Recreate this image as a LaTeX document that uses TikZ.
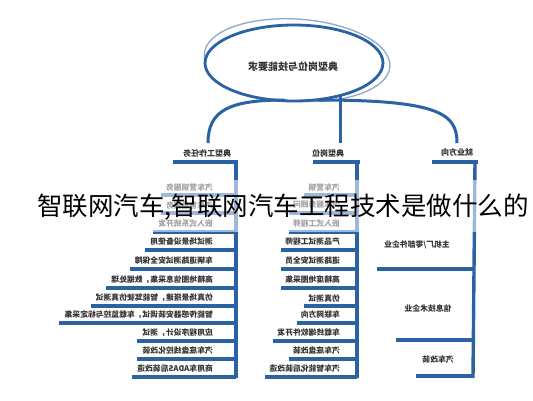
\documentclass[tikz,border=0pt]{standalone}
\usepackage{fontspec}
\usepackage{graphicx}
\setmainfont{Noto Sans CJK SC}
\usetikzlibrary{shapes.geometric}
\definecolor{bl}{HTML}{2B62A3}
\definecolor{tx}{HTML}{333333}
\newcommand\mir[1]{\reflectbox{#1}}
\begin{document}
\begin{tikzpicture}[x=1pt,y=-1pt,
  item/.style={font=\fontsize{7.8}{8}\selectfont\bfseries, text=tx, inner sep=0pt, anchor=east},
  head/.style={font=\fontsize{8}{9}\selectfont\bfseries, text=tx, inner sep=0pt},
  bar/.style={draw=bl, line width=3.4pt},
  branch/.style={draw=bl, line width=3pt},
]
\useasboundingbox (0,0) rectangle (533,400);
\fill[white] (0,0) rectangle (533,400);

% central ellipse
\draw[bl!55, line width=1.3pt, rotate around={-4:(295,62)}] (297,60) ellipse [x radius=93, y radius=41];
\draw[bl, line width=2.8pt, fill=white] (294,63) ellipse [x radius=89, y radius=38];
\node[font=\fontsize{10}{11}\selectfont\bfseries, text=tx] (E) at (293,67) {\mir{典型岗位与技能要求}};

% branch stubs
\coordinate (bL) at (208,143);
\coordinate (bM) at (340,143);
\coordinate (bR) at (457,143);
\coordinate (eL) at (285,100);
\coordinate (eM) at (340,95);
\coordinate (eR) at (318,100);
\draw[branch] (eL) .. controls (230,100) and (208,110) .. (bL);
\draw[branch] (eM) -- (bM);
\draw[branch] (eR) .. controls (440,100) and (457,114) .. (bR);

% headers
\node[head] (HL) at (207,153) {\mir{典型工作任务}};
\node[head] (HM) at (328,153) {\mir{典型岗位}};
\node[head] (HR) at (457,152) {\mir{就业方向}};

% header bars and spines
\coordinate (sL0) at (173,162); \coordinate (sL1) at (238,162);
\coordinate (sM0) at (313,162); \coordinate (sM1) at (360,162);
\coordinate (sR0) at (432,162); \coordinate (sR1) at (478,162);
\draw[bar] (sL0) -- (sL1);
\draw[bar] (sM0) -- (sM1);
\draw[bar] (sR0) -- (sR1);
\coordinate (vL0) at (236,162); \coordinate (vL1) at (236,378);
\coordinate (vM0) at (357,162); \coordinate (vM1) at (357,378);
\coordinate (vR0) at (475,162); \coordinate (vR1) at (473,378);
\draw[bar] (vL0) -- (vL1);
\draw[bar] (vM0) -- (vM1);
\draw[bar] (vR0) -- (vR1);

% left column
\foreach \y/\t [count=\i] in {187/汽车营销服务, 205/汽车售后服务, 224/嵌入式系统开发, 242/测试场景设备使用, 261/车辆道路测试安全保障, 280/高精地图信息采集，数据处理, 298/仿真场景搭建，智能驾驶仿真测试, 315/智能传感器安装调试，车载监控与标定采集, 333/应用程序设计，测试, 351/汽车底盘线控化改装, 369/商用车ADAS后装改造}{
  \node[item] (L\i) at (213,\y) {\mir{\t}};
  \coordinate (Lv\i) at (236,\y+8);
  \draw[bar] ([xshift=-5pt]L\i.west |- Lv\i) -- (Lv\i);
}

% middle column
\foreach \y/\t [count=\i] in {187/汽车营销, 205/汽车服务顾问, 224/嵌入式工程师, 242/产品测试工程师, 261/道路测试安全员, 280/高精度地图采集, 298/仿真测试, 315/车联网方向, 333/车载终端软件开发, 351/汽车底盘改装, 369/汽车智能化后装改造}{
  \node[item] (M\i) at (340,\y) {\mir{\t}};
  \coordinate (Mv\i) at (357,\y+8);
  \draw[bar] ([xshift=-4pt]M\i.west |- Mv\i) -- (Mv\i);
}

% right column
\node[item, anchor=center] (R1) at (417,245) {\mir{主机厂/零部件企业}};
\node[item, anchor=center] (R2) at (428,308) {\mir{信息技术企业}};
\node[item, anchor=center] (R3) at (438,360) {\mir{汽车改装}};
\coordinate (Rv1) at (475,269); \coordinate (Rv2) at (474,340); \coordinate (Rv3) at (473,376);
\draw[bar] (377,269) -- (Rv1);
\draw[bar] (396,340) -- (Rv2);
\draw[bar] (416,376) -- (Rv3);

% faded band behind the overlay title
\fill[white, opacity=0.55] (0,180) rectangle (533,232);
\node[font=\fontsize{25.5}{27}\selectfont, text=black, inner sep=0pt] (T) at (283,207) {智联网汽车,智联网汽车工程技术是做什么的};
\end{tikzpicture}
\end{document}
